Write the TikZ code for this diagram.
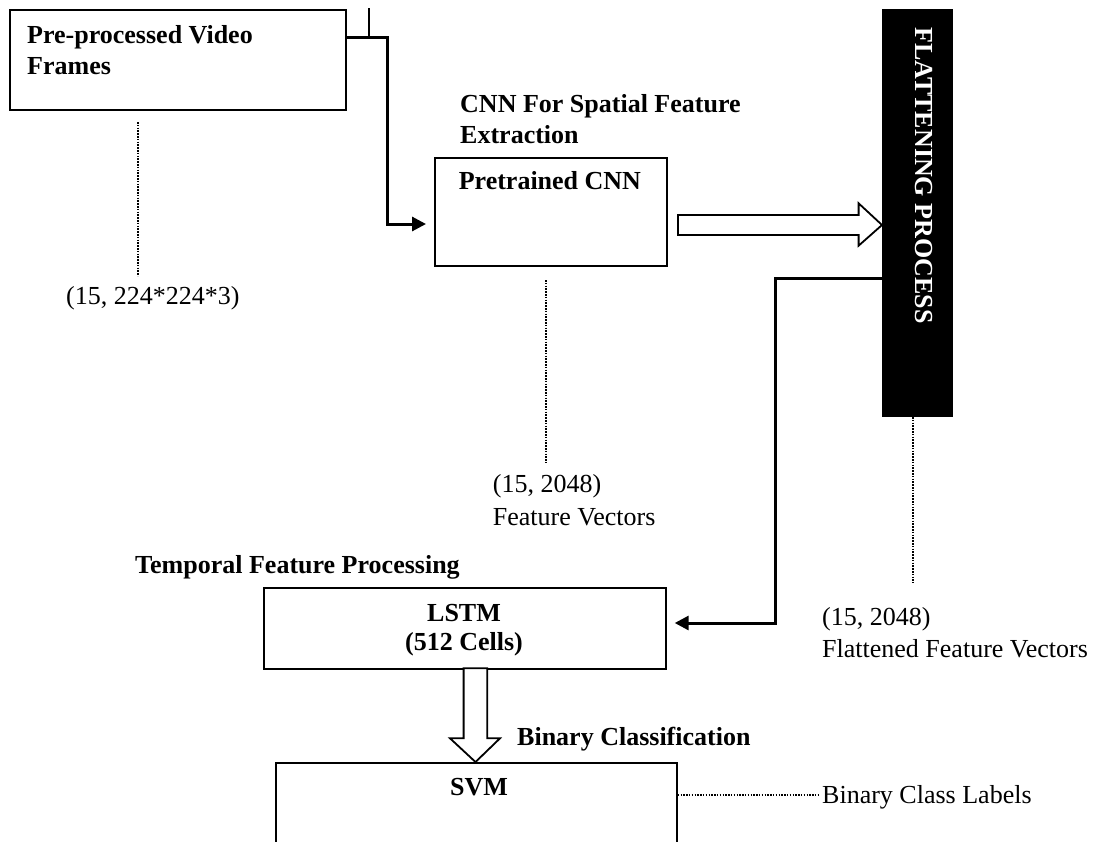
\documentclass[tikz,border=0pt]{standalone}
\usepackage{fontspec}
\setmainfont{Liberation Serif}
\usetikzlibrary{arrows.meta}
\tikzset{
  box/.style={draw=black, line width=1.7pt, fill=none, inner sep=0pt, anchor=north west},
  txt/.style={inner sep=0pt, font=\fontsize{26}{31}\selectfont},
  btxt/.style={inner sep=0pt, font=\fontsize{26}{31}\selectfont\bfseries},
  conn/.style={draw=black, line width=3pt, -{Triangle[length=14pt,width=14pt]}, shorten >=8pt},
  dotline/.style={draw=black, line width=2pt, dash pattern=on 1.5pt off 1.3pt},
  hollow/.style={draw=black, line width=1.8pt, fill=white, line join=miter},
}
\begin{document}
\begin{tikzpicture}[x=1pt,y=-1pt]
\useasboundingbox (0,0) rectangle (1102,841);

% boxes
\node[box, minimum width=336, minimum height=100] (box1) at (9,9) {};
\node[box, minimum width=232, minimum height=108] (cnn) at (434,157) {};
\node[box, fill=black, minimum width=69, minimum height=406] (bar) at (882,9) {};
\node[box, minimum width=402, minimum height=81] (lstm) at (263,587) {};
\node[box, minimum width=401, minimum height=100] (svm) at (275,762) {};

% texts
\node[btxt, anchor=base west] (t1a) at (27,43) {Pre-processed Video};
\node[btxt, anchor=base west] (t1b) at (27,74) {Frames};
\node[btxt, anchor=base west] (tc1) at (460,112.7) {CNN For Spatial Feature};
\node[btxt, anchor=base west] (tc2) at (460,143.3) {Extraction};
\node[btxt, anchor=base west] (tc3) at (458.6,189.3) {Pretrained CNN};
\node[btxt, text=white, rotate=-90, anchor=west] (tbar) at (924,27) {FLATTENING PROCESS};
\node[txt, anchor=base west] (d1) at (66,304) {(15, 224*224*3)};
\node[txt, anchor=base west] (d2a) at (492.7,492.7) {(15, 2048)};
\node[txt, anchor=base west] (d2b) at (492.7,525) {Feature Vectors};
\node[txt, anchor=base west] (d3a) at (822,625) {(15, 2048)};
\node[txt, anchor=base west] (d3b) at (822,657) {Flattened Feature Vectors};
\node[btxt, anchor=base west] (tt) at (135,573) {Temporal Feature Processing};
\node[btxt, anchor=base] (tl1) at (464,621) {LSTM};
\node[btxt, anchor=base] (tl2) at (464,650) {(512 Cells)};
\node[btxt, anchor=base west] (tbc) at (517,745) {Binary Classification};
\node[btxt, anchor=base] (tsvm) at (479,795) {SVM};
\node[txt, anchor=base west] (tlab) at (822,803) {Binary Class Labels};

% small tick line at top
\draw[line width=1.5pt] (369,8) -- (369,37);

% solid connectors
\draw[conn] (box1.east |- 0,37) -| (387,224) -- (cnn.west |- 0,224);
\draw[conn] (bar.west |- 0,278) -| (775,623) -- (lstm.east |- 0,623);

% hollow arrows
\draw[hollow] (678,215) -- (858.6,215) -- (858.6,203.3) -- (bar.west |- 0,225) -- (858.6,245.7) -- (858.6,235) -- (678,235) -- cycle;
\draw[hollow] (463.6,668.3) -- (463.6,738.3) -- (450,738.3) -- (svm.north -| 475.5,0) -- (500,738.3) -- (487.3,738.3) -- (487.3,668.3) -- cycle;

% dotted lines
\draw[dotline] (137.5,122) -- (137.5,276);
\draw[dotline] (546,280) -- (546,463);
\draw[dotline] (912.5,417) -- (912.5,583);
\draw[dotline] (svm.east |- 0,795) -- (818,795);
\end{tikzpicture}
\end{document}
